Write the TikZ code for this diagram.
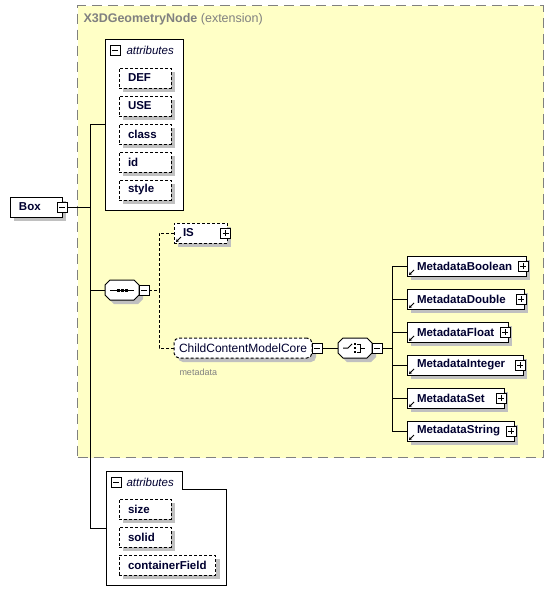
\documentclass[tikz,border=0pt]{standalone}
\usepackage{fontspec}
\setmainfont{Liberation Sans}
\usetikzlibrary{positioning, shadows, arrows.meta, calc}
\definecolor{ylw}{RGB}{255,255,198}
\definecolor{g}{HTML}{808080}
\definecolor{sh}{RGB}{192,192,192}
\definecolor{ink}{RGB}{0,0,48}
% octagon round a compositor node, shifted by (#2,#3)
\newcommand\octagon[3]{($(#1.west)+(#2,#3-5)$) -- ($(#1.north west)+(#2+5,#3)$) -- ($(#1.north east)+(#2-5,#3)$) -- ($(#1.east)+(#2,#3-5)$) -- ($(#1.east)+(#2,#3+5)$) -- ($(#1.south east)+(#2-5,#3)$) -- ($(#1.south west)+(#2+5,#3)$) -- ($(#1.west)+(#2,#3+5)$) -- cycle}

\begin{document}
\fontsize{11.5pt}{13pt}\selectfont
\begin{tikzpicture}[x=1pt, y=-1pt, line width=1pt,
		boxshadow/.style={drop shadow={shadow xshift=4pt, shadow yshift=-4pt, fill=sh, opacity=1}},
		elem/.style={draw, fill=white, text=ink, font=\bfseries, minimum height=20pt, inner xsep=9pt, inner ysep=0pt, outer sep=0pt, boxshadow},
		attr/.style={elem, dash pattern=on 3pt off 2pt, text width=34pt, align=left},
		meta/.style={elem, anchor=west, inner xsep=10pt, text width=#1, align=left},
		compositor/.style={minimum width=34pt, minimum height=20pt, inner sep=0pt, outer sep=0pt},
		minusbtn/.style={draw, solid, fill=white, minimum size=10pt, inner sep=0pt, outer sep=0pt,
			path picture={\draw ([xshift=2pt]path picture bounding box.west) -- ([xshift=-2pt]path picture bounding box.east);}},
		plusbtn/.style={draw, solid, fill=white, minimum size=10pt, inner sep=0pt, outer sep=0pt,
			path picture={\draw ([xshift=2pt]path picture bounding box.west) -- ([xshift=-2pt]path picture bounding box.east);
				\draw ([yshift=2pt]path picture bounding box.south) -- ([yshift=-2pt]path picture bounding box.north);}},
		dotline/.style={dash pattern=on 3pt off 2pt}
	]
			\fill[white] (0,0) rectangle (554,605);
			\useasboundingbox (0,0) rectangle (554,605);
			
			% extension area
			\node[draw=g, fill=ylw, dash pattern=on 10pt off 6pt, minimum width=466pt, minimum height=452pt, anchor=north west, inner sep=0pt] (geomext) at (77,5) {};
			\node[anchor=west, inner sep=0pt, text=g, font=\fontsize{12.5pt}{14pt}\selectfont] (geomtitle) at (83,19) {\bfseries X3DGeometryNode \mdseries(extension)};
			
			% root element
			\node[elem, text width=34pt, align=left, anchor=west] (box) at (10,207) {Box};
			\node[minusbtn] (boxbtn) at (box.east) {};
			
			% first attributes group
			\node[draw, fill=white, minimum width=78pt, minimum height=171pt, anchor=north west, inner sep=0pt, outer sep=0pt] (topattr) at (105,39) {};
			\node[minusbtn] (topattrbtn) at (115,50) {};
			\node[anchor=west, inner sep=0pt, text=ink, font=\itshape] (topattrlbl) at (126,50) {attributes};
			
			\node[attr, anchor=north west] (def) at (119,68) {DEF};
			\node[attr, below=8pt of def] (use) {USE};
			\node[attr, below=8pt of use] (class) {class};
			\node[attr, below=8pt of class] (id) {id};
			\node[attr, below=8pt of id] (style) {style};
			
			% sequence
			\node[compositor, anchor=west] (seq) at (105,290) {};
			\fill[sh] \octagon{seq}{4}{4};
			\filldraw[fill=white] \octagon{seq}{0}{0};
			\node[minusbtn, anchor=west] (seqbtn) at (seq.east) {};
			\draw ([xshift=5pt]seq.west) -- ([xshift=-5pt]seq.east);
			\fill ([xshift=-4pt]seq.center) +(-1.5,-1.5) rectangle +(1.5,1.5);
			\fill (seq.center) +(-1.5,-1.5) rectangle +(1.5,1.5);
			\fill ([xshift=4pt]seq.center) +(-1.5,-1.5) rectangle +(1.5,1.5);
			\coordinate (seqfork) at (159,290);
			
			\node[elem, dash pattern=on 3pt off 2pt, text width=35pt, align=left, anchor=west] (is) at (174,233) {IS};
			
			\node[elem, dash pattern=on 3pt off 2pt, rounded corners=5pt, font=\fontsize{12pt}{14pt}\selectfont, inner xsep=5pt, text width=128pt, align=left, anchor=west] (ccmc) at (174,348) {ChildContentModelCore};
			\node[anchor=west, inner sep=0pt, text=g, font=\fontsize{9pt}{10pt}\selectfont] (ccmcnote) at ($(ccmc.south west)+(5,14)$) {metadata};
			\node[minusbtn, anchor=west] (ccmcbtn) at (ccmc.east) {};
			
			% choice
			\node[compositor, right=16pt of ccmcbtn] (choice) {};
			\fill[sh] \octagon{choice}{4}{4};
			\filldraw[fill=white] \octagon{choice}{0}{0};
			\node[minusbtn, anchor=west] (choicebtn) at (choice.east) {};
			\draw ($(choice.center)+(-12,0)$) -- ($(choice.center)+(-7,0)$) -- ($(choice.center)+(-3,-4)$);
			\fill ($(choice.center)+(0,-4)$) +(-1.3,-1.3) rectangle +(1.3,1.3);
			\fill (choice.center) +(-1.3,-1.3) rectangle +(1.3,1.3);
			\fill ($(choice.center)+(0,4)$) +(-1.3,-1.3) rectangle +(1.3,1.3);
			\draw ($(choice.center)+(2,-4)$) -- ($(choice.center)+(5,-4)$) -- ($(choice.center)+(5,4)$) -- ($(choice.center)+(2,4)$);
			\draw ($(choice.center)+(5,0)$) -- ($(choice.center)+(10,0)$);
			\coordinate (metafork) at (392,348);
			
			\node[meta=99pt] (mbool) at (407,266) {MetadataBoolean};
			\node[meta=97pt] (mdouble) at (407,299) {MetadataDouble};
			\node[meta=81pt] (mfloat) at (407,332) {MetadataFloat};
			\node[meta=96pt] (mint) at (407,365) {MetadataInteger};
			\node[meta=77pt] (mset) at (407,398) {MetadataSet};
			\node[meta=87pt] (mstring) at (407,431) {MetadataString};
			
			% plus buttons and reference arrows
			\node[plusbtn] (isbtn) at ([xshift=-1.5pt]is.east) {};
			\foreach \n in {is, mbool, mdouble, mfloat, mint, mset, mstring} {
				\draw[-{Stealth[length=3pt, width=3.5pt]}] ($(\n.south west)+(7,-6)$) -- ($(\n.south west)+(2,-1)$);
			}
			\foreach \n in {mbool, mdouble, mfloat, mint, mset, mstring} {
				\node[plusbtn] (\n-btn) at ([xshift=-3pt]\n.east) {};
			}
			
			% second attributes group
			\node[minimum width=120pt, minimum height=114pt, anchor=north west, inner sep=0pt, outer sep=0pt] (botattr) at (106,471) {};
			\draw[fill=white] (botattr.north west) -- ++(76,0) |- ($(botattr.north east)+(0,18)$) -- (botattr.south east) -- (botattr.south west) -- cycle;
			\node[minusbtn] (botattrbtn) at (116,482) {};
			\node[anchor=west, inner sep=0pt, text=ink, font=\itshape] (botattrlbl) at (126,482) {attributes};
			
			\node[attr, anchor=north west] (size) at (119,499) {size};
			\node[attr, below=8pt of size] (solid) {solid};
			\node[elem, dash pattern=on 3pt off 2pt, below=8pt of solid.south west, anchor=north west] (cfield) {containerField};
			
			% connectors
			\coordinate (trunk) at (90,207);
			\draw (boxbtn.east) -- (trunk);
			\draw (topattr.west) -- (topattr.west -| trunk) -- (botattr.west -| trunk) -- (botattr.west);
			\draw (seq.west) -- (seq.west -| trunk);
			
			\draw[dotline] (seqbtn.east) -- (seqfork);
			\draw[dotline] (is.west) -| (seqfork);
			\draw[dotline] (ccmc.west) -| (seqfork);
			
			\draw (ccmcbtn.east) -- (choice.west);
			\draw (choicebtn.east) -- (metafork);
			\draw (mbool.west) -| (metafork);
			\draw (mstring.west) -| (metafork);
			\draw (mdouble.west) -- (mdouble.west -| metafork);
			\draw (mfloat.west) -- (mfloat.west -| metafork);
			\draw (mint.west) -- (mint.west -| metafork);
			\draw (mset.west) -- (mset.west -| metafork);
		\end{tikzpicture}
\end{document}
